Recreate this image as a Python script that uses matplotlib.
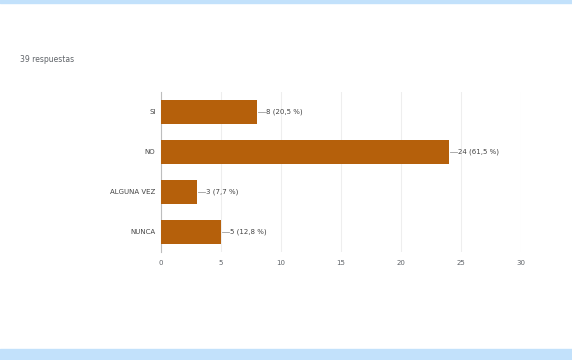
import matplotlib
matplotlib.use("Agg")
import matplotlib.pyplot as plt
from matplotlib.patches import Rectangle

categories = ["SI", "NO", "ALGUNA VEZ", "NUNCA"]
counts = [8, 24, 3, 5]
percents = ["20,5", "61,5", "7,7", "12,8"]
total_label = "39 respuestas"
x_ticks = [0, 5, 10, 15, 20, 25, 30]

bar_color = "#b5600b"
text_color = "#5f6368"
band_color = "#c2e1fb"

fig = plt.figure(figsize=(5.72, 3.6), dpi=100)
fig.patch.set_facecolor("white")

# light blue bands at the top and bottom edges
fig.add_artist(Rectangle((0, 1 - 3 / 360), 1, 3 / 360, transform=fig.transFigure,
                         color=band_color, zorder=0))
fig.add_artist(Rectangle((0, 0), 1, 11 / 360, transform=fig.transFigure,
                         color=band_color, zorder=0))

fig.text(20 / 572, 1 - 60 / 360, total_label, fontsize=5.5, color=text_color,
         va="center", ha="left")

ax = fig.add_axes([161 / 572, 1 - 252 / 360, 360 / 572, 160 / 360])
ypos = list(range(len(categories)))
ax.barh(ypos, counts, height=0.6, color=bar_color, zorder=3)
ax.set_ylim(len(categories) - 0.5, -0.5)
ax.set_xlim(0, 30)
ax.set_yticks(ypos)
ax.set_yticklabels(categories, fontsize=5, color="#444444")
ax.set_xticks(x_ticks)
ax.set_xticklabels([str(t) for t in x_ticks], fontsize=5, color=text_color)
ax.tick_params(axis="both", length=0, pad=4)
ax.tick_params(axis="x", pad=6)
ax.grid(axis="x", color="#eeeeee", linewidth=0.8, zorder=0)
for side in ["top", "right", "bottom"]:
    ax.spines[side].set_visible(False)
ax.spines["left"].set_color("#bdbdbd")
ax.spines["left"].set_linewidth(0.8)

for y, c, p in zip(ypos, counts, percents):
    ax.plot([c + 0.05, c + 0.7], [y, y], color="#9e9e9e", linewidth=0.6, zorder=4)
    ax.text(c + 0.75, y, f"{c} ({p} %)", fontsize=5, color="#444444",
            va="center", ha="left")

fig.savefig("out.png", dpi=100, facecolor="white")
